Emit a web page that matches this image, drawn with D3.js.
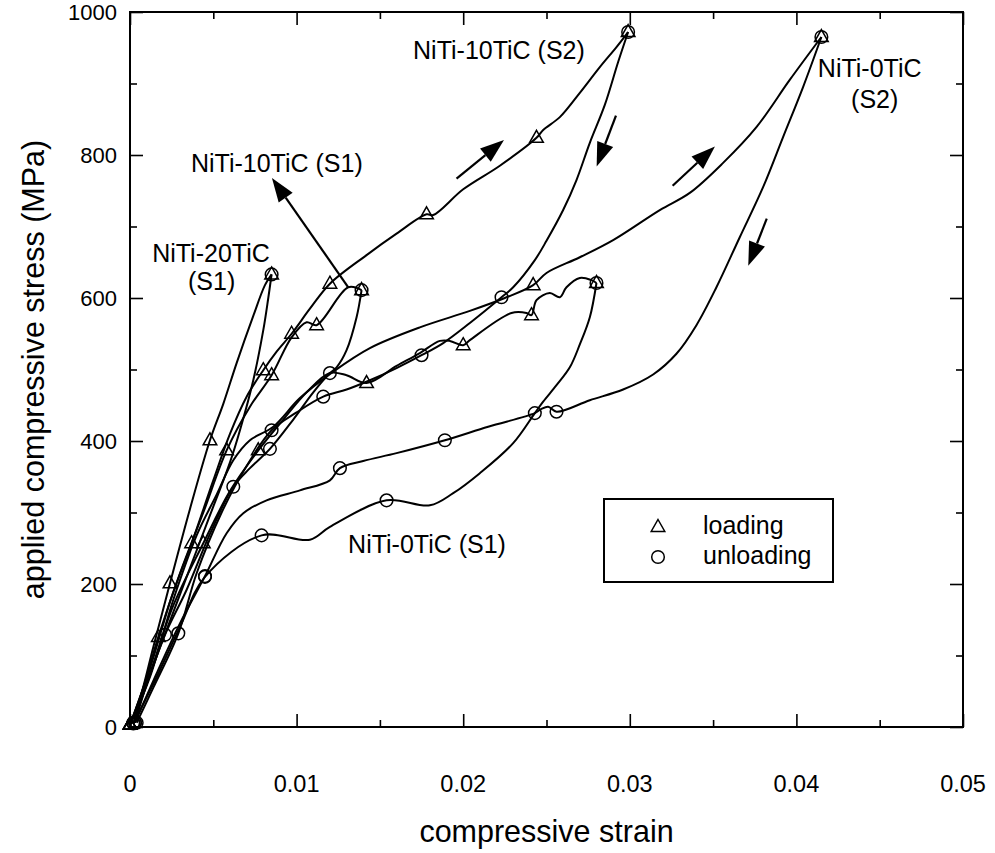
<!DOCTYPE html>
<html><head><meta charset="utf-8">
<script src="https://cdn.jsdelivr.net/npm/d3@7"></script>
<style>
html,body{margin:0;padding:0;background:#fff;}
svg{display:block;font-family:"Liberation Sans",Arial,Helvetica,sans-serif;}
</style></head><body>
<svg id="chart" width="995" height="853"></svg>
<script>
// ---------- axes ----------
const xTickValues = [0, 0.01, 0.02, 0.03, 0.04, 0.05];
const xTickLabels = ["0", "0.01", "0.02", "0.03", "0.04", "0.05"];
const xMinorTicks = [0.005, 0.015, 0.025, 0.035, 0.045];
const yTickValues = [0, 200, 400, 600, 800, 1000];
const yTickLabels = ["0", "200", "400", "600", "800", "1000"];
const yMinorTicks = [100, 300, 500, 700, 900];
const xTitle = "compressive strain";
const yTitle = "applied compressive stress (MPa)";

// ---------- data: [strain, stress, symbol (1 = marker drawn)] ----------
// NiTi-20TiC (S1)
const niti20S1Loading = [[0,3,1],[0.0006,40,0],[0.0014,112,0],[0.0024,201,1],[0.0036,305,0],[0.0048,401,1],[0.0056,452,0],[0.0064,509,0],[0.0074,575,0],[0.0081,618,0],[0.0085,633,1]];
const niti20S1Unloading = [[0.0085,633,1],[0.0083,600,0],[0.0080,555,0],[0.0074,485,0],[0.0066,415,0],[0.0060,370,0],[0.0047,290,0],[0.0034,210,0],[0.0021,130,0],[0.0010,60,0],[0.0003,6,1]];
// NiTi-10TiC (S1)
const niti10S1Loading = [[0,3,1],[0.0008,55,0],[0.0017,126,1],[0.0030,215,0],[0.0044,300,0],[0.0058,387,1],[0.0072,448,0],[0.0085,492,1],[0.0097,545,0],[0.0106,566,0],[0.0112,562,1],[0.0131,615,0],[0.0139,611,1]];
const niti10S1Unloading = [[0.0139,611,1],[0.0136,573,0],[0.0130,527,0],[0.0124,503,0],[0.0120,495,1],[0.0110,468,0],[0.0098,430,0],[0.0084,389,1],[0.0072,362,0],[0.0062,336,1],[0.0048,270,0],[0.0034,192,0],[0.0021,129,1],[0.0010,60,0],[0.0002,6,1]];
// NiTi-10TiC (S2)
const niti10S2Loading = [[0,3,1],[0.0012,82,0],[0.0025,182,0],[0.0037,257,1],[0.0050,345,0],[0.0060,410,0],[0.0070,462,0],[0.0080,499,1],[0.0088,525,0],[0.0097,550,1],[0.0108,585,0],[0.0120,620,1],[0.0142,660,0],[0.0160,690,0],[0.0178,717,1],[0.0182,716,0],[0.0200,752,0],[0.0222,785,0],[0.0244,824,1],[0.0248,835,0],[0.0258,853,0],[0.0270,887,0],[0.0282,923,0],[0.0292,951,0],[0.0299,972,1]];
const niti10S2Unloading = [[0.0299,972,1],[0.0293,930,0],[0.0285,870,0],[0.0276,817,0],[0.0268,765,0],[0.0260,723,0],[0.0250,680,0],[0.0243,653,0],[0.0230,615,0],[0.0223,601,1],[0.0204,565,0],[0.0188,537,0],[0.0175,520,1],[0.0160,502,0],[0.0144,485,0],[0.0130,472,0],[0.0116,462,1],[0.0100,440,0],[0.0085,415,1],[0.0070,365,0],[0.0055,300,0],[0.0040,215,0],[0.0029,131,1],[0.0014,55,0],[0.0004,6,1]];
// NiTi-0TiC (S1)
const niti0S1Loading = [[0,3,1],[0.0012,75,0],[0.0026,170,0],[0.0044,257,1],[0.0060,330,0],[0.0077,387,1],[0.0092,430,0],[0.0106,468,0],[0.0120,495,0],[0.0130,492,0],[0.0142,481,1],[0.0160,505,0],[0.0174,523,0],[0.0186,540,0],[0.0192,540,0],[0.0200,534,1],[0.0204,541,0],[0.0229,579,0],[0.0238,579,0],[0.0241,576,1],[0.0244,597,0],[0.0252,607,0],[0.0258,601,0],[0.0262,615,0],[0.0270,628,0],[0.0277,625,0],[0.0280,621,1]];
const niti0S1Unloading = [[0.0280,621,1],[0.0276,573,0],[0.0270,535,0],[0.0264,503,0],[0.0256,478,0],[0.0248,455,0],[0.0243,439,0],[0.0230,397,0],[0.0210,355,0],[0.0194,327,0],[0.0180,310,0],[0.0154,317,1],[0.0120,280,0],[0.0108,262,0],[0.0079,268,1],[0.0045,210,1],[0.0030,140,0],[0.0015,65,0],[0.0002,5,1]];
// NiTi-0TiC (S2)
const niti0S2Loading = [[0,3,1],[0.0012,70,0],[0.0026,178,0],[0.0040,268,0],[0.0052,325,0],[0.0062,373,0],[0.0072,401,0],[0.0086,420,0],[0.0102,460,0],[0.0122,497,0],[0.0144,530,0],[0.0174,559,0],[0.0204,582,0],[0.0225,600,0],[0.0242,618,1],[0.0250,635,0],[0.0270,657,0],[0.0290,681,0],[0.0318,723,0],[0.0336,747,0],[0.0356,789,0],[0.0376,839,0],[0.0396,905,0],[0.0415,965,1]];
const niti0S2Unloading = [[0.0415,965,1],[0.0404,895,0],[0.0392,825,0],[0.0380,755,0],[0.0366,685,0],[0.0352,615,0],[0.0340,562,0],[0.0328,522,0],[0.0314,493,0],[0.0296,472,0],[0.0276,457,0],[0.0256,441,1],[0.0251,448,0],[0.0247,445,0],[0.0243,439,1],[0.0215,420,0],[0.0189,401,1],[0.0160,383,0],[0.0140,372,0],[0.0126,362,1],[0.0120,345,0],[0.0102,331,0],[0.0082,317,0],[0.0068,299,0],[0.0058,271,0],[0.0045,211,1],[0.0030,145,0],[0.0016,75,0],[0.0003,6,1]];

const loadingCurves = [niti20S1Loading, niti10S1Loading, niti10S2Loading, niti0S1Loading, niti0S2Loading];
const unloadingCurves = [niti20S1Unloading, niti10S1Unloading, niti10S2Unloading, niti0S1Unloading, niti0S2Unloading];

// ---------- annotations ----------
const labelTexts = ["NiTi-10TiC (S2)", "NiTi-0TiC", "(S2)", "NiTi-10TiC (S1)", "NiTi-20TiC", "(S1)", "NiTi-0TiC (S1)"];
const labelX = [0.01699, 0.04440, 0.04470, 0.00366, 0.00486, 0.00490, 0.01309];
const labelY = [934, 909, 866, 776, 650, 611, 243];
const labelAnchor = ["start", "middle", "middle", "start", "middle", "middle", "start"];
// arrows: [tailStrain, tailStress, tipStrain, tipStress]
const arrows = [
  [0.0196, 767, 0.02245, 821],
  [0.02917, 855, 0.02801, 784],
  [0.03257, 757, 0.03511, 812],
  [0.03822, 711, 0.03711, 645],
  [0.0131, 615, 0.00852, 768]
];
const legendLabels = ["loading", "unloading"];

// ---------- drawing ----------
const svg = d3.select("#chart");
const x = d3.scaleLinear().domain([0, 0.05]).range([130, 963]);
const y = d3.scaleLinear().domain([0, 1000]).range([727, 12]);

// frame
svg.append("rect").attr("x", x(0)).attr("y", y(1000)).attr("width", x(0.05) - x(0)).attr("height", y(0) - y(1000))
  .attr("fill", "none").attr("stroke", "#000").attr("stroke-width", 2);

function ticks(axisFn, scale, values, size, transform) {
  const g = svg.append("g").attr("transform", transform)
    .call(axisFn(scale).tickValues(values).tickSize(size).tickFormat(""));
  g.select(".domain").remove();
  g.selectAll(".tick line").attr("stroke", "#000").attr("stroke-width", 1.6);
}
ticks(d3.axisBottom, x, xTickValues, -13, `translate(0,${y(0)})`);
ticks(d3.axisBottom, x, xMinorTicks, -7, `translate(0,${y(0)})`);
ticks(d3.axisTop, x, xTickValues, -13, `translate(0,${y(1000)})`);
ticks(d3.axisTop, x, xMinorTicks, -7, `translate(0,${y(1000)})`);
ticks(d3.axisLeft, y, yTickValues, -13, `translate(${x(0)},0)`);
ticks(d3.axisLeft, y, yMinorTicks, -7, `translate(${x(0)},0)`);
ticks(d3.axisRight, y, yTickValues, -13, `translate(${x(0.05)},0)`);
ticks(d3.axisRight, y, yMinorTicks, -7, `translate(${x(0.05)},0)`);

// tick labels
svg.append("g").selectAll("text").data(xTickValues).join("text")
  .attr("x", d => x(d)).attr("y", 792).attr("text-anchor", "middle")
  .attr("font-size", 23.5).text((d, i) => xTickLabels[i]);
svg.append("g").selectAll("text").data(yTickValues).join("text")
  .attr("x", 117).attr("y", d => y(d) + 8).attr("text-anchor", "end")
  .attr("font-size", 22).text((d, i) => yTickLabels[i]);

// titles
svg.append("text").attr("x", (x(0) + x(0.05)) / 2).attr("y", 842).attr("text-anchor", "middle")
  .attr("font-size", 30.5).text(xTitle);
svg.append("text").attr("transform", `translate(44,${(y(0) + y(1000)) / 2}) rotate(-90)`)
  .attr("text-anchor", "middle").attr("font-size", 30.5).text(yTitle);

// curves
const line = d3.line().x(d => x(d[0])).y(d => y(d[1])).curve(d3.curveCatmullRom.alpha(0.5));
const curveG = svg.append("g");
loadingCurves.concat(unloadingCurves).forEach(c => {
  curveG.append("path").attr("d", line(c)).attr("fill", "none").attr("stroke", "#000")
    .attr("stroke-width", 2).attr("stroke-linejoin", "round");
});

const triPath = "M0,-7.5L6.8,4.5L-6.8,4.5Z";
const markG = svg.append("g");
loadingCurves.forEach(c => {
  markG.selectAll(null).data(c.filter(d => d[2])).join("path")
    .attr("d", triPath).attr("transform", d => `translate(${x(d[0])},${y(d[1])})`)
    .attr("fill", "none").attr("stroke", "#000").attr("stroke-width", 1.5);
});
unloadingCurves.forEach(c => {
  markG.selectAll(null).data(c.filter(d => d[2])).join("circle")
    .attr("cx", d => x(d[0])).attr("cy", d => y(d[1])).attr("r", 6.3)
    .attr("fill", "none").attr("stroke", "#000").attr("stroke-width", 1.5);
});

// arrows
arrows.forEach(a => {
  const x1 = x(a[0]), y1 = y(a[1]), x2 = x(a[2]), y2 = y(a[3]);
  const ang = Math.atan2(y2 - y1, x2 - x1);
  const L = 24, W = 8.5;
  const bx = x2 - L * Math.cos(ang), by = y2 - L * Math.sin(ang);
  const px = -Math.sin(ang) * W, py = Math.cos(ang) * W;
  svg.append("line").attr("x1", x1).attr("y1", y1).attr("x2", bx).attr("y2", by)
    .attr("stroke", "#000").attr("stroke-width", 2.2);
  svg.append("path").attr("d", `M${x2},${y2}L${bx + px},${by + py}L${bx - px},${by - py}Z`).attr("fill", "#000");
});

// labels
svg.append("g").selectAll("text").data(labelTexts).join("text")
  .attr("x", (d, i) => x(labelX[i])).attr("y", (d, i) => y(labelY[i]))
  .attr("text-anchor", (d, i) => labelAnchor[i]).attr("font-size", 25).text(d => d);

// legend
const lgX = 604, lgY = 499;
svg.append("rect").attr("x", lgX).attr("y", lgY).attr("width", 229).attr("height", 83)
  .attr("fill", "#fff").attr("stroke", "#000").attr("stroke-width", 2);
svg.append("path").attr("d", triPath).attr("transform", `translate(${lgX + 54},${lgY + 28})`)
  .attr("fill", "none").attr("stroke", "#000").attr("stroke-width", 1.5);
svg.append("circle").attr("cx", lgX + 54).attr("cy", lgY + 58).attr("r", 6.3)
  .attr("fill", "none").attr("stroke", "#000").attr("stroke-width", 1.5);
legendLabels.forEach((t, i) => {
  svg.append("text").attr("x", lgX + 99).attr("y", lgY + 35 + i * 30).attr("font-size", 25).text(t);
});
</script>
</body></html>
